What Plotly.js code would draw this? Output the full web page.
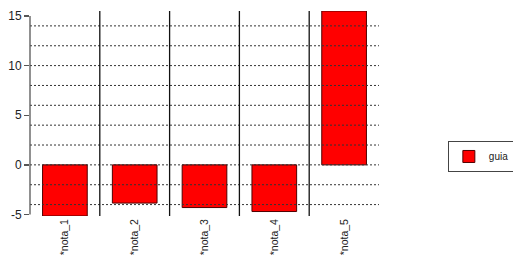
<!DOCTYPE html>
<html><head><meta charset="utf-8">
<script src="https://cdn.plot.ly/plotly-3.0.1.min.js"></script>
<style>html,body{margin:0;padding:0;background:#fff}#c{width:513px;height:265px}</style>
</head><body><div id="c"></div>
<script>
const categories = ["*nota_1", "*nota_2", "*nota_3", "*nota_4", "*nota_5"];
const values = [-5.15, -3.85, -4.3, -4.7, 15.5];
const seriesName = "guia";
const gridValues = [-4, -2, 0, 2, 4, 6, 8, 10, 12, 14];
const yTicks = [-5, 0, 5, 10, 15];

const shapes = [];
gridValues.forEach(v => shapes.push({
  type: 'line', xref: 'paper', x0: 0, x1: 1, yref: 'y', y0: v, y1: v,
  line: {color: '#333', width: 1, dash: '2px,2px'}, layer: 'above'
}));
for (let i = 0; i < categories.length - 1; i++) {
  shapes.push({type: 'line', xref: 'x', x0: i + 0.5, x1: i + 0.5, yref: 'paper', y0: 0, y1: 1,
    line: {color: '#111', width: 1.3}, layer: 'above'});
}
shapes.push({type: 'line', xref: 'paper', x0: 0, x1: 0, yref: 'y', y0: yTicks[0], y1: yTicks[yTicks.length-1],
  line: {color: '#555', width: 1.3}});

Plotly.newPlot('c', [{
  type: 'bar', x: categories.map((c, i) => i), y: values, name: seriesName,
  width: 0.64, showlegend: true,
  marker: {color: '#ff0000', line: {color: '#500000', width: 1}}
}], {
  width: 513, height: 265,
  margin: {l: 29.5, r: 133.5, t: 11, b: 49, autoexpand: false},
  paper_bgcolor: '#fff', plot_bgcolor: '#fff',
  font: {family: 'Liberation Sans, Arial, sans-serif', color: '#222'},
  xaxis: {range: [-0.5, 4.5], tickmode: 'array', tickvals: categories.map((c, i) => i), ticktext: categories,
    tickangle: -90, showgrid: false, zeroline: false, showline: false, ticks: '',
    tickfont: {size: 10.5, color: '#222'}, automargin: false, fixedrange: true},
  yaxis: {range: [-5.15, 15.5], tickmode: 'array', tickvals: yTicks, ticktext: yTicks.map(String),
    showgrid: false, zeroline: false, showline: false, ticks: 'outside', ticklen: 5, tickwidth: 1.3,
    tickcolor: '#555', tickfont: {size: 12, color: '#222'}, automargin: false, fixedrange: true},
  shapes: shapes,
  showlegend: true,
  legend: {xref: 'container', yref: 'container', x: 0.873, y: 0.468, xanchor: 'left', yanchor: 'top',
    bordercolor: '#444', borderwidth: 1, itemwidth: 30, tracegroupgap: 0,
    bgcolor: '#fff', font: {size: 10, color: '#222'}},
  bargap: 0.36
}, {staticPlot: true});
</script></body></html>
